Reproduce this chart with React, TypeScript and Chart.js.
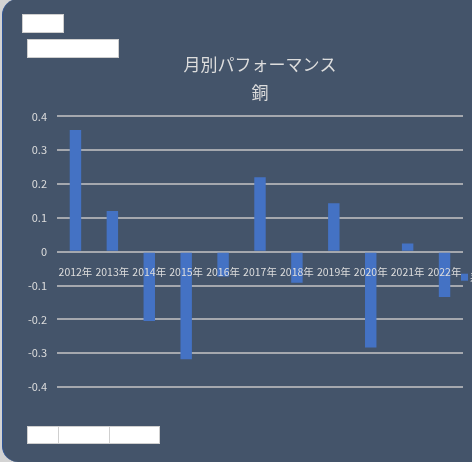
import React, { useEffect, useRef } from "react";
import { Chart, registerables } from "chart.js";

Chart.register(...registerables);

const categories = [
  "2012年", "2013年", "2014年", "2015年", "2016年", "2017年",
  "2018年", "2019年", "2020年", "2021年", "2022年",
];
const values = [0.36, 0.12, -0.205, -0.318, -0.073, 0.22, -0.092, 0.143, -0.283, 0.024, -0.134];
const seriesName = "系列1";
const titleText = "月別パフォーマンス";
const subtitleText = "銅";
const yMin = -0.4;
const yMax = 0.4;
const yStep = 0.1;

const FONT = "'Noto Sans CJK JP', 'Noto Sans', sans-serif";
const TEXT = "#DDDDDD";
const BAR = "#4472C4";
const GRID = "#A5A8AE";

const sideLegend = {
  id: "sideLegend",
  afterDraw(chart: any) {
    const { ctx, chartArea } = chart;
    const ds = chart.data.datasets[0];
    const x = chartArea.right - 2;
    const y = (chartArea.top + chartArea.bottom) / 2 + 22;
    ctx.save();
    ctx.fillStyle = ds.backgroundColor;
    ctx.fillRect(x, y, 7, 7);
    ctx.fillStyle = TEXT;
    ctx.font = `10px ${FONT}`;
    ctx.textBaseline = "middle";
    ctx.fillText(ds.label, x + 9, y + 3.5);
    ctx.restore();
  },
};

export default function App() {
  const ref = useRef<HTMLCanvasElement | null>(null);

  useEffect(() => {
    if (!ref.current) return;
    const chart = new Chart(ref.current, {
      type: "bar",
      data: {
        labels: categories,
        datasets: [
          {
            label: seriesName,
            data: values,
            backgroundColor: BAR,
            borderWidth: 0,
            barPercentage: 0.31,
            categoryPercentage: 1,
          },
        ],
      },
      options: {
        animation: false,
        responsive: false,
        devicePixelRatio: 1,
        layout: { padding: { left: 0, right: 9, top: 0, bottom: 75 } },
        plugins: {
          legend: { display: false },
          tooltip: { enabled: false },
          title: {
            display: true,
            text: titleText,
            color: TEXT,
            fullSize: false,
            font: { family: FONT, size: 17, weight: "normal", lineHeight: 1.2 },
            padding: { top: 54, bottom: 0 },
          },
          subtitle: {
            display: true,
            text: subtitleText,
            color: TEXT,
            fullSize: false,
            font: { family: FONT, size: 17, weight: "normal", lineHeight: 1.2 },
            padding: { top: 8, bottom: 13.6 },
          },
        },
        scales: {
          x: {
            position: { y: 0 } as any,
            grid: { display: false },
            border: { display: false },
            ticks: {
              z: 1,
              color: TEXT,
              font: { family: FONT, size: 10.5 },
              padding: 6,
              maxRotation: 0,
              minRotation: 0,
              autoSkip: false,
            } as any,
            afterFit(scale: any) {
              scale.height = 0;
            },
          },
          y: {
            min: yMin,
            max: yMax,
            grid: { color: GRID, lineWidth: 2, drawTicks: false },
            border: { display: false },
            ticks: {
              stepSize: yStep,
              color: TEXT,
              font: { family: FONT, size: 11 },
              padding: 10,
              callback: (v: any) => String(Number(Number(v).toFixed(1))),
            },
            afterFit(scale: any) {
              scale.width = 57;
            },
          },
        },
      },
      plugins: [sideLegend],
    });
    return () => chart.destroy();
  }, []);

  const box = (left: number, top: number, width: number, height: number) => ({
    position: "absolute" as const,
    left,
    top,
    width,
    height,
    background: "#FFFFFF",
    boxSizing: "border-box" as const,
    border: "1px solid #CFCFCF",
  });

  return (
    <div
      style={{
        position: "fixed",
        left: 0,
        top: 0,
        width: 472,
        height: 462,
        overflow: "hidden",
        background: "#D3D3D3",
      }}
    >
      <div
        style={{
          position: "absolute",
          left: 2,
          top: -1,
          width: 540,
          height: 463,
          background: "#44546A",
          borderRadius: 16,
          borderLeft: "1.5px solid #2F5597",
          boxSizing: "border-box",
        }}
      />
      <canvas
        ref={ref}
        width={472}
        height={462}
        style={{ position: "absolute", left: 0, top: 0, width: 472, height: 462 }}
      />
      <div style={box(22, 14, 42, 19)} />
      <div style={box(27, 39, 92, 19)} />
      <div style={box(27, 426, 32, 18)} />
      <div style={box(58, 426, 52, 18)} />
      <div style={box(109, 426, 51, 18)} />
    </div>
  );
}
